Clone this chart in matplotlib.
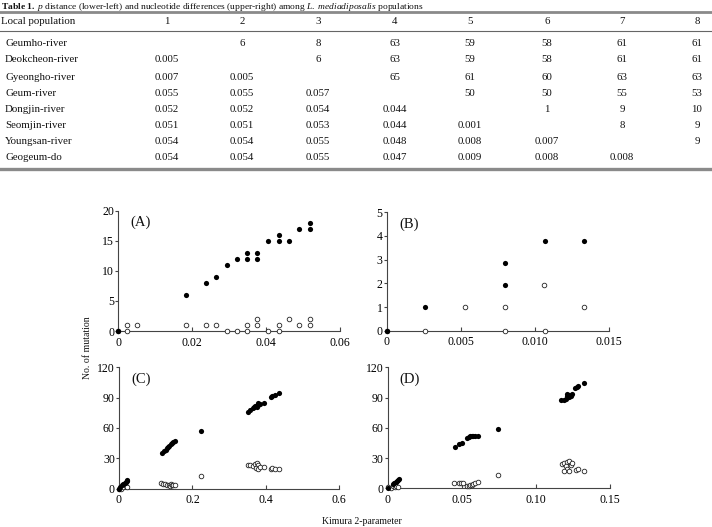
import matplotlib
matplotlib.use("Agg")
import matplotlib.pyplot as plt
from matplotlib.lines import Line2D

plt.rcParams['font.family'] = ['Liberation Serif', 'DejaVu Serif']
plt.rcParams['mathtext.fontset'] = 'custom'
plt.rcParams['mathtext.rm'] = 'Liberation Serif'
plt.rcParams['mathtext.it'] = 'Liberation Serif:italic'
plt.rcParams['mathtext.bf'] = 'Liberation Serif:bold'

W, H = 712, 527

# ---------------- table data ----------------
col_labels = ["1", "2", "3", "4", "5", "6", "7", "8"]
populations = ["Geumho-river", "Deokcheon-river", "Gyeongho-river", "Geum-river",
               "Dongjin-river", "Seomjin-river", "Youngsan-river", "Geogeum-do"]
table_rows = [
    ["", "6", "8", "63", "59", "58", "61", "61"],
    ["0.005", "", "6", "63", "59", "58", "61", "61"],
    ["0.007", "0.005", "", "65", "61", "60", "63", "63"],
    ["0.055", "0.055", "0.057", "", "50", "50", "55", "53"],
    ["0.052", "0.052", "0.054", "0.044", "", "1", "9", "10"],
    ["0.051", "0.051", "0.053", "0.044", "0.001", "", "8", "9"],
    ["0.054", "0.054", "0.055", "0.048", "0.008", "0.007", "", "9"],
    ["0.054", "0.054", "0.055", "0.047", "0.009", "0.008", "0.008", ""],
]

# ---------------- scatter data ----------------
a_fill_x = [0, 0.0184, 0.0238, 0.0265, 0.0294, 0.0321, 0.0348, 0.0348, 0.0376, 0.0376,
            0.0406, 0.0435, 0.0435, 0.0461, 0.049, 0.0518, 0.0518]
a_fill_y = [0, 6, 8, 9, 11, 12, 12, 13, 12, 13, 15, 16, 15, 15, 17, 17, 18]
a_open_x = [0, 0.0023, 0.0023, 0.0051, 0.0184, 0.0238, 0.0265, 0.0294, 0.0321, 0.0348,
            0.0348, 0.0376, 0.0376, 0.0406, 0.0435, 0.0435, 0.0461, 0.049, 0.0518, 0.0518]
a_open_y = [0, 1, 0, 1, 1, 1, 1, 0, 0, 1, 0, 2, 1, 0, 1, 0, 2, 1, 2, 1]

b_fill_x = [0, 0.0026, 0.008, 0.008, 0.0107, 0.0133]
b_fill_y = [0, 1, 1.95, 2.85, 3.78, 3.78]
b_open_x = [0, 0.0026, 0.0053, 0.008, 0.008, 0.0106, 0.0107, 0.0133]
b_open_y = [0, 0, 1, 1, 0, 1.95, 0, 1]

c_fill_x = [0.0, 0.003, 0.008, 0.012, 0.015, 0.018, 0.021, 0.022,
            0.116, 0.122, 0.127, 0.131, 0.134, 0.137, 0.141, 0.144, 0.148, 0.153,
            0.223,
            0.352, 0.358, 0.364, 0.367, 0.370, 0.375, 0.379, 0.379, 0.384, 0.395,
            0.413, 0.418, 0.424, 0.437]
c_fill_y = [0, 1, 3, 4, 5, 6, 8, 7,
            35, 37, 38, 40, 41, 42, 44, 45, 46, 47,
            57,
            76, 78, 80, 81, 82, 81, 83, 85, 84, 85, 91, 92, 93, 95]
c_open_x = [0, 0.006, 0.012, 0.02, 0.022,
            0.115, 0.121, 0.126, 0.131, 0.135, 0.138, 0.141, 0.144, 0.148, 0.152,
            0.224,
            0.352, 0.358, 0.366, 0.370, 0.375, 0.379, 0.373, 0.379, 0.384, 0.395,
            0.413, 0.418, 0.424, 0.436]
c_open_y = [0, 0, 1, 2, 1,
            5, 4, 4, 3, 3, 2, 4, 3, 3, 3,
            12,
            23, 23, 22, 24, 25, 23, 20, 19, 21, 21, 19, 20, 19, 19]

d_fill_x = [0, 0.0035, 0.0045, 0.0055, 0.0063, 0.0071, 0.008,
            0.0455, 0.048, 0.050, 0.0536, 0.0548, 0.056, 0.057, 0.058, 0.0593, 0.061,
            0.0747,
            0.117, 0.1194, 0.1205, 0.1212, 0.1216, 0.1228, 0.1228, 0.124, 0.1244,
            0.1267, 0.128, 0.129, 0.133]
d_fill_y = [0, 4, 5, 6, 7, 8, 9,
            41, 44, 45, 50, 51, 52, 52, 52, 52, 52,
            59,
            88, 88, 89, 94, 92, 93, 91, 92, 94, 99, 100, 101, 104]
d_open_x = [0, 0.0026, 0.0037, 0.0048, 0.0056, 0.0071,
            0.0452, 0.048, 0.0495, 0.0509, 0.0536, 0.0548, 0.056, 0.057, 0.058, 0.0593, 0.061,
            0.0747,
            0.118, 0.1194, 0.1212, 0.1228, 0.1203, 0.1216, 0.1194, 0.1228, 0.124, 0.1244,
            0.1273, 0.1285, 0.133]
d_open_y = [1, 0, 2, 1, 2, 1,
            5, 5, 5, 5, 2, 2, 3, 3, 4, 5, 6,
            13,
            24, 25, 26, 27, 22, 19, 17, 17, 23, 25, 18, 19, 17]

panels = [
    dict(label="(A)", fx=a_fill_x, fy=a_fill_y, ox=a_open_x, oy=a_open_y,
         xt=[0, 0.02, 0.04, 0.06], xtl=["0", "0.02", "0.04", "0.06"],
         yt=[0, 5, 10, 15, 20], rect=(118.3, 210.7, 340.0, 331.0)),
    dict(label="(B)", fx=b_fill_x, fy=b_fill_y, ox=b_open_x, oy=b_open_y,
         xt=[0, 0.005, 0.010, 0.015], xtl=["0", "0.005", "0.010", "0.015"],
         yt=[0, 1, 2, 3, 4, 5], rect=(386.7, 212.3, 609.3, 330.7)),
    dict(label="(C)", fx=c_fill_x, fy=c_fill_y, ox=c_open_x, oy=c_open_y,
         xt=[0, 0.2, 0.4, 0.6], xtl=["0", "0.2", "0.4", "0.6"],
         yt=[0, 30, 60, 90, 120], rect=(119.0, 367.3, 339.3, 488.5)),
    dict(label="(D)", fx=d_fill_x, fy=d_fill_y, ox=d_open_x, oy=d_open_y,
         xt=[0, 0.05, 0.10, 0.15], xtl=["0", "0.05", "0.10", "0.15"],
         yt=[0, 30, 60, 90, 120], rect=(387.5, 367.3, 609.5, 488.3)),
]

fig = plt.figure(figsize=(W / 100, H / 100), dpi=100)

def fx_(x):
    return x / W

def fy_(y):
    return 1 - y / H

# ---------------- table ----------------
fig.text(fx_(1), fy_(1), r"$\bf{Table\ 1.}$ $\it{p}$ distance (lower-left) and nucleotide "
         r"differences (upper-right) among $\it{L.\ mediadiposalis}$ populations",
         fontsize=6.8, ha='left', va='top', color='#111111')

fig.add_artist(Line2D([0, 1], [fy_(11.5), fy_(11.5)], color='#8a8a8a', lw=2.0,
                      transform=fig.transFigure))
fig.add_artist(Line2D([0, 1], [fy_(31), fy_(31)], color='#666666', lw=0.8,
                      transform=fig.transFigure))
fig.add_artist(Line2D([0, 1], [fy_(169), fy_(169)], color='#8a8a8a', lw=2.4,
                      transform=fig.transFigure))

col_x = [167, 242, 318, 395, 470, 547, 622, 697]
row_y = [44, 60, 77, 93, 109, 125, 141, 158]
tfs = 7.8
fig.text(fx_(1), fy_(21), "Local population", fontsize=tfs, ha='left', va='center',
         color='#111111')
for cx, lab in zip(col_x, col_labels):
    fig.text(fx_(cx), fy_(21), lab, fontsize=tfs, ha='center', va='center', color='#111111')
for ry, name, row in zip(row_y, populations, table_rows):
    fig.text(fx_(5), fy_(ry), name, fontsize=tfs, ha='left', va='center', color='#111111')
    for cx, val in zip(col_x, row):
        if val:
            fig.text(fx_(cx), fy_(ry), val, fontsize=tfs, ha='center', va='center',
                     color='#111111')

# ---------------- scatter panels ----------------
for p in panels:
    x0, y0, x1, y1 = p["rect"]
    ax = fig.add_axes([x0 / W, 1 - y1 / H, (x1 - x0) / W, (y1 - y0) / H])
    ax.scatter(p["ox"], p["oy"], s=11, facecolors='white', edgecolors='#222222',
               linewidths=0.6, clip_on=False, zorder=3)
    ax.scatter(p["fx"], p["fy"], s=14, color='black', linewidths=0, clip_on=False, zorder=4)
    ax.set_xlim(p["xt"][0], p["xt"][-1])
    ax.set_ylim(p["yt"][0], p["yt"][-1])
    ax.set_xticks(p["xt"])
    ax.set_xticklabels(p["xtl"])
    ax.set_yticks(p["yt"])
    for s in ("top", "right"):
        ax.spines[s].set_visible(False)
    for s in ("left", "bottom"):
        ax.spines[s].set_color('#444444')
        ax.spines[s].set_linewidth(0.8)
    ax.tick_params(axis='x', direction='in', length=3, width=0.8, color='#444444',
                   labelsize=8.5, pad=4)
    ax.tick_params(axis='y', direction='out', length=2.5, width=0.8, color='#444444',
                   labelsize=8.5, pad=0.5)
    ax.patch.set_visible(False)
    ax.text(0.1, 0.9, p["label"], transform=ax.transAxes, fontsize=10.5,
            ha='center', va='center', color='#111111')

fig.text(fx_(88), fy_(348), "No. of mutation", rotation=90, fontsize=7,
         ha='center', va='center', color='#111111')
fig.text(fx_(362), fy_(521), "Kimura 2-parameter", fontsize=7,
         ha='center', va='center', color='#111111')

fig.savefig("out.png", dpi=100)
